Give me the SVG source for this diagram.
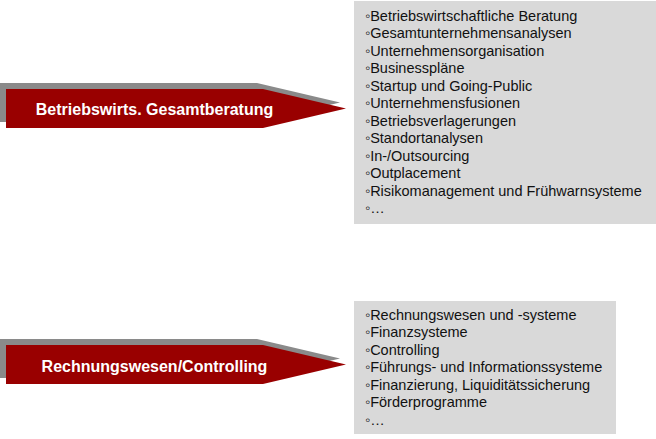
<svg xmlns="http://www.w3.org/2000/svg" width="656" height="439" viewBox="0 0 656 439">
<defs>
<style>
.shadow{fill:#8a8a8a}
.arrow{fill:#990000}
.head{font-family:"Liberation Sans",Arial,sans-serif;font-weight:bold;font-size:16px;fill:#ffffff;text-anchor:middle}
.box{fill:#d9d9d9}
.item{font-family:"Liberation Sans",Arial,sans-serif;font-size:14.5px;fill:#111111}
</style>
</defs>
<rect width="656" height="439" fill="#ffffff"/>
<g id="node-betriebswirts">
<polygon class="shadow" points="0,83 257,83 340,102.5 257,122 0,122"/>
<polygon class="arrow" points="6,89 263,89 346,108.5 263,128 6,128"/>
<text class="head" x="154.5" y="114.5">Betriebswirts. Gesamtberatung</text>
</g>
<g id="node-rechnungswesen">
<polygon class="shadow" points="0,339 257,339 340,358.5 257,378 0,378"/>
<polygon class="arrow" points="6,345 263,345 346,364.5 263,384 6,384"/>
<text class="head" x="154.5" y="372">Rechnungswesen/Controlling</text>
</g>
<g id="list-betriebswirts">
<rect class="box" x="354" y="1" width="302" height="223"/>
<text class="item" x="365" y="20.5">◦Betriebswirtschaftliche Beratung</text>
<text class="item" x="365" y="38">◦Gesamtunternehmensanalysen</text>
<text class="item" x="365" y="55.5">◦Unternehmensorganisation</text>
<text class="item" x="365" y="73">◦Businesspläne</text>
<text class="item" x="365" y="90.5">◦Startup und Going-Public</text>
<text class="item" x="365" y="108">◦Unternehmensfusionen</text>
<text class="item" x="365" y="125.5">◦Betriebsverlagerungen</text>
<text class="item" x="365" y="143">◦Standortanalysen</text>
<text class="item" x="365" y="160.5">◦In-/Outsourcing</text>
<text class="item" x="365" y="178">◦Outplacement</text>
<text class="item" x="365" y="195.5">◦Risikomanagement und Frühwarnsysteme</text>
<text class="item" x="365" y="213">◦…</text>
</g>
<g id="list-rechnungswesen">
<rect class="box" x="354" y="301" width="262" height="133"/>
<text class="item" x="365" y="319.5">◦Rechnungswesen und -systeme</text>
<text class="item" x="365" y="337">◦Finanzsysteme</text>
<text class="item" x="365" y="354.5">◦Controlling</text>
<text class="item" x="365" y="372">◦Führungs- und Informationssysteme</text>
<text class="item" x="365" y="389.5">◦Finanzierung, Liquiditätssicherung</text>
<text class="item" x="365" y="407">◦Förderprogramme</text>
<text class="item" x="365" y="424.5">◦…</text>
</g>
<g id="connectors"></g>
</svg>
